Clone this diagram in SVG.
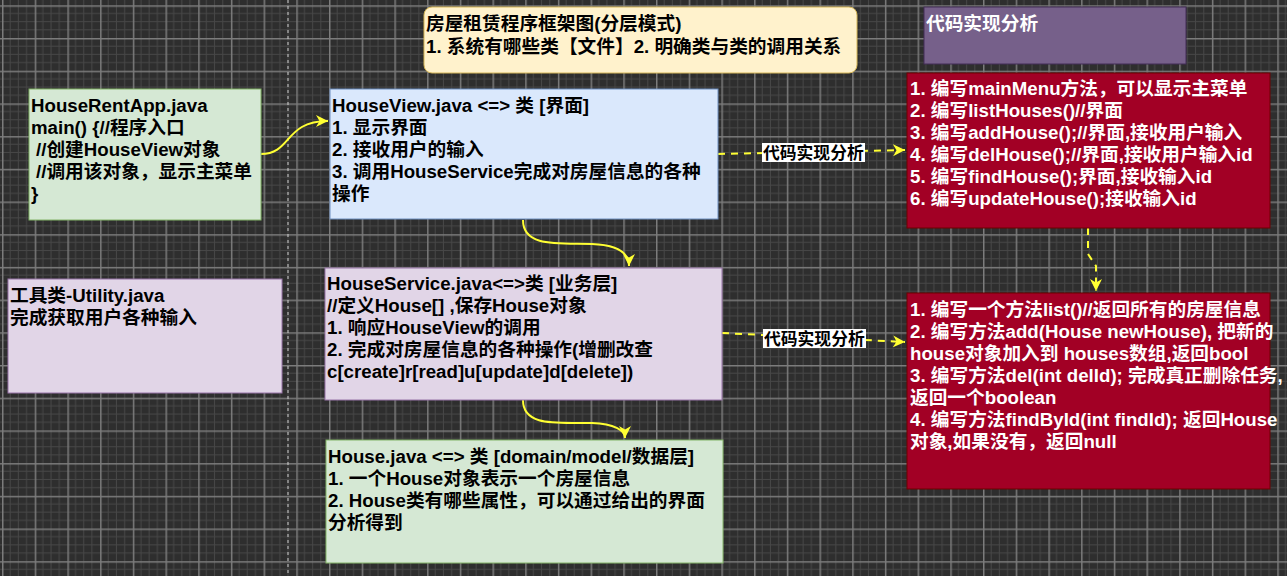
<svg xmlns="http://www.w3.org/2000/svg" width="1287" height="576" viewBox="0 0 1287 576">
<style>
text{font-family:"Liberation Sans","Noto Sans CJK SC",sans-serif;font-weight:bold;font-size:18.7px;fill:#000}
.w{fill:#fff}
.lbl{font-size:16.8px}
.con{fill:none;stroke:#ffff33;stroke-width:2}
.dash{stroke-dasharray:7 6}
</style>
<defs>
<pattern id="grid" patternUnits="userSpaceOnUse" x="2" y="5.3" width="32.7" height="32.7">
<rect width="32.7" height="32.7" fill="#2e2e2e"/>
<path d="M8.175,0V32.7M16.35,0V32.7M24.525,0V32.7M0,8.175H32.7M0,16.35H32.7M0,24.525H32.7" stroke="#474747" stroke-width="1"/>
<path d="M0.75,0V32.7M0,0.75H32.7" stroke="#7c7c7c" stroke-width="1.5"/>
</pattern>
<marker id="arr" markerUnits="userSpaceOnUse" markerWidth="14" markerHeight="12" refX="12" refY="6" orient="auto">
<path d="M0,0 L12,6 L0,12 L3.5,6 Z" fill="#ffff33"/>
</marker>
</defs>
<rect width="1287" height="576" fill="url(#grid)"/>
<line x1="288" y1="0" x2="288" y2="576" stroke="#d0d0d0" stroke-width="1" stroke-dasharray="3 3"/>

<g id="connectors">
<path class="con" d="M261,154 C292,154 284,121 328,121" marker-end="url(#arr)"/>
<path class="con" d="M523,220 C523,248 560,243 592,244 C616,245 629,252 629,266" marker-end="url(#arr)"/>
<path class="con" d="M523,400 C523,428 560,422 592,423 C614,424 625,430 625,438" marker-end="url(#arr)"/>
<path class="con dash" d="M718,154 L905,150" marker-end="url(#arr)"/>
<path class="con dash" d="M722,333 L905,342" marker-end="url(#arr)"/>
<path class="con dash" d="M1088,228 L1088,254 L1096,266 L1096,291" marker-end="url(#arr)"/>
<rect x="762" y="143" width="103" height="19" fill="#fff"/>
<text class="lbl" x="763" y="159">代码实现分析</text>
<rect x="763" y="329" width="103" height="19" fill="#fff"/>
<text class="lbl" x="764" y="345">代码实现分析</text>
</g>

<g id="title">
<rect x="424" y="7" width="433" height="66" rx="8" fill="#fff2cc" stroke="#d6b656"/>
<text x="426" y="30">房屋租赁程序框架图(分层模式)</text>
<text x="426" y="53">1. 系统有哪些类【文件】2. 明确类与类的调用关系</text>
</g>

<g id="header">
<rect x="924" y="7" width="262" height="57" fill="#76608a" stroke="#432d57"/>
<text class="w" x="926" y="30">代码实现分析</text>
</g>

<g id="houseRentApp">
<rect x="29" y="89" width="232" height="131" fill="#d5e8d4" stroke="#82b366"/>
<text x="31" y="112">HouseRentApp.java</text>
<text x="31" y="134">main() {//程序入口</text>
<text x="36" y="156">//创建HouseView对象</text>
<text x="36" y="178">//调用该对象，显示主菜单</text>
<text x="31" y="200">}</text>
</g>

<g id="houseView">
<rect x="330" y="89" width="388" height="130" fill="#dae8fc" stroke="#6c8ebf"/>
<text x="332" y="112">HouseView.java &lt;=&gt; 类 [界面]</text>
<text x="332" y="134">1. 显示界面</text>
<text x="332" y="156">2. 接收用户的输入</text>
<text x="332" y="178">3. 调用HouseService完成对房屋信息的各种</text>
<text x="332" y="200">操作</text>
</g>

<g id="utility">
<rect x="8" y="279" width="274" height="114" fill="#e1d5e7" stroke="#9673a6"/>
<text x="10" y="302">工具类-Utility.java</text>
<text x="10" y="324">完成获取用户各种输入</text>
</g>

<g id="houseService">
<rect x="325" y="268" width="397" height="132" fill="#e1d5e7" stroke="#9673a6"/>
<text x="327" y="290">HouseService.java&lt;=&gt;类 [业务层]</text>
<text x="327" y="312">//定义House[] ,保存House对象</text>
<text x="327" y="334">1. 响应HouseView的调用</text>
<text x="327" y="356">2. 完成对房屋信息的各种操作(增删改查</text>
<text x="327" y="378">c[create]r[read]u[update]d[delete])</text>
</g>

<g id="house">
<rect x="326" y="440" width="397" height="123" fill="#d5e8d4" stroke="#82b366"/>
<text x="328" y="463">House.java &lt;=&gt; 类 [domain/model/数据层]</text>
<text x="328" y="485">1. 一个House对象表示一个房屋信息</text>
<text x="328" y="507">2. House类有哪些属性，可以通过给出的界面</text>
<text x="328" y="529">分析得到</text>
</g>

<g id="viewTasks">
<rect x="907" y="73" width="363" height="155" fill="#a20025" stroke="#6f0000"/>
<text class="w" x="910" y="95">1. 编写mainMenu方法，可以显示主菜单</text>
<text class="w" x="910" y="117">2. 编写listHouses()//界面</text>
<text class="w" x="910" y="139">3. 编写addHouse();//界面,接收用户输入</text>
<text class="w" x="910" y="161">4. 编写delHouse();//界面,接收用户输入id</text>
<text class="w" x="910" y="183">5. 编写findHouse();界面,接收输入id</text>
<text class="w" x="910" y="205">6. 编写updateHouse();接收输入id</text>
</g>

<g id="serviceTasks">
<rect x="907" y="293" width="363" height="196" fill="#a20025" stroke="#6f0000"/>
<text class="w" x="910" y="316">1. 编写一个方法list()//返回所有的房屋信息</text>
<text class="w" x="910" y="338">2. 编写方法add(House newHouse), 把新的</text>
<text class="w" x="910" y="360">house对象加入到 houses数组,返回bool</text>
<text class="w" x="910" y="382">3. 编写方法del(int delId); 完成真正删除任务,</text>
<text class="w" x="910" y="404">返回一个boolean</text>
<text class="w" x="910" y="426">4. 编写方法findById(int findId); 返回House</text>
<text class="w" x="910" y="448">对象,如果没有，返回null</text>
</g>
</svg>
